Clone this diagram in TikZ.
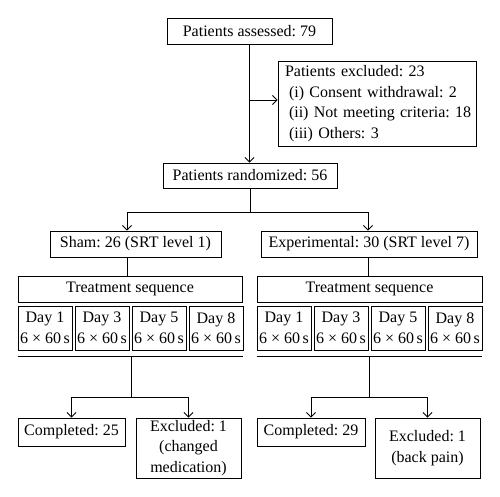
\documentclass[tikz,border=0pt]{standalone}
\usepackage{fontspec}
\setmainfont{Liberation Serif}
\frenchspacing
\usetikzlibrary{arrows.meta}
\begin{document}
\begin{tikzpicture}[x=1pt,y=-1pt,->,>={Straight Barb[length=4.5pt,width=9pt]},line width=0.9pt,
        every node/.style = {draw, align=center, inner sep=2pt,
            font=\fontsize{16}{20.5}\selectfont},
        daybox/.style = {minimum width=54pt, minimum height=44pt, inner sep=0pt}]
    \useasboundingbox (0,0) rectangle (500,496);
    \node[minimum width=165pt, minimum height=26pt] (assessed) at (249.5, 31) {Patients assessed: 79};
    \node[minimum width=198pt, minimum height=85pt, text width=192pt, inner xsep=3pt, align=left]
        (excluded) at (377, 103.5) {\hspace*{4pt}\mbox{Patients excluded: 23}\\
        \hspace*{8pt}\mbox{(i) Consent withdrawal: 2}\\
        \hspace*{8pt}\mbox{(ii) Not meeting criteria: 18}\\
        \hspace*{8pt}\mbox{(iii) Others: 3}};
    \node[minimum width=174pt, minimum height=25pt] (randomized) at (250, 175.5) {Patients randomized: 56};
    \node[minimum width=171pt, minimum height=26pt] (sham) at (135.5, 244) {Sham: 26 (SRT level 1)};
    \node[minimum width=216pt, minimum height=26pt] (experimental) at (369, 244) {Experimental: 30 (SRT level 7)};
    \node[minimum width=224pt, minimum height=26pt] (treatL) at (130, 289) {Treatment sequence};
    \node[minimum width=225pt, minimum height=26pt] (treatR) at (369.5, 289) {Treatment sequence};
    \foreach \d [count=\i] in {1,3,5,8} {
        \node[daybox] (dayL\i) at (45+57*\i-57, 328) {Day \d\\6 × 60\,s};
        \node[daybox] (dayR\i) at (284+57*\i-57, 328) {Day \d\\6 × 60\,s};
    }
    \node[minimum width=107pt, minimum height=28pt] (completedL) at (71.5, 432) {Completed: 25};
    \node[minimum width=105pt, minimum height=60pt] (excludedL) at (188.5, 448) {Excluded: 1\\(changed\\medication)};
    \node[minimum width=108pt, minimum height=28pt] (completedR) at (311, 432) {Completed: 29};
    \node[minimum width=105pt, minimum height=60pt] (excludedR) at (427.5, 448) {Excluded: 1\\(back pain)};

    % flow from assessment to randomization
    \coordinate (split) at (assessed.south |- 0,100);
    \draw (assessed.south) -- (assessed.south |- randomized.north);
    \draw (split) -- (split -| excluded.west);
    \coordinate (branch) at (250, 212);
    \coordinate (colL) at (127, 0);
    \coordinate (colR) at (368, 0);
    \draw[-] (randomized) -- (branch);
    \draw (branch) -| (colL |- sham.north);
    \draw (branch) -| (colR |- experimental.north);
    \draw[-] (colL |- sham.south) -- (colL |- treatL.north);
    \draw[-] (colR |- experimental.south) -- (colR |- treatR.north);

    % end of treatment
    \draw[-, line width=1.5pt] ([yshift=-6pt]dayL1.south west) -- ([yshift=-6pt]dayL4.south east);
    \draw[-, line width=1.5pt] ([yshift=-6pt]dayR1.south west) -- ([yshift=-6pt]dayR4.south east);
    \coordinate (barL) at (131, 356);
    \coordinate (forkL) at (131, 397);
    \coordinate (barR) at (369, 356);
    \coordinate (forkR) at (369, 397);
    \draw[-] (barL) -- (forkL);
    \draw (forkL) -| (completedL);
    \draw (forkL) -| (excludedL);
    \draw[-] (barR) -- (forkR);
    \draw (forkR) -| (completedR);
    \draw (forkR) -| (excludedR);
\end{tikzpicture}
\end{document}
